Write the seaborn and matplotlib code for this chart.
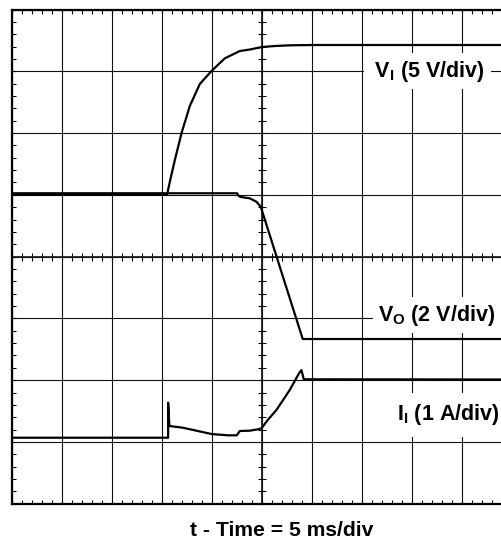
import matplotlib
matplotlib.use("Agg")
import matplotlib.pyplot as plt
import seaborn as sns
from matplotlib.ticker import MultipleLocator

# Oscilloscope traces, in screen divisions (time: 5 ms/div)
vi_t = [0.0, 3.10, 3.113, 3.16, 3.26, 3.40, 3.56, 3.76, 4.0, 4.26, 4.56, 4.76, 5.0, 5.26, 5.56, 5.98, 10.3]
vi_y = [5.0, 5.0, 5.034, 5.212, 5.563, 6.017, 6.438, 6.794, 7.009, 7.209, 7.328, 7.352, 7.392, 7.409, 7.420, 7.425, 7.425]

vo_t = [0.0, 4.506, 4.54, 4.58, 4.76, 4.894, 4.98, 5.82, 10.3]
vo_y = [5.025, 5.025, 4.98, 4.965, 4.943, 4.888, 4.807, 2.666, 2.666]

ii_t = [0.0, 3.126, 3.126, 3.15, 3.42, 3.72, 3.994, 4.32, 4.50, 4.56, 4.76, 4.92, 4.994,
        5.12, 5.294, 5.56, 5.694, 5.75, 5.794, 5.82, 5.84, 10.3]
ii_y = [1.068, 1.068, 1.635, 1.258, 1.230, 1.177, 1.128, 1.107, 1.107, 1.177, 1.182, 1.204, 1.220,
        1.355, 1.517, 1.840, 2.035, 2.116, 2.164, 2.083, 2.014, 2.010]

trace_labels = ["V$_{\\rm I}$ (5 V/div)", "V$_{\\rm O}$ (2 V/div)", "I$_{\\rm I}$ (1 A/div)"]
x_label = "t - Time = 5 ms/div"

sns.set_theme(style="white")
plt.rcParams["font.family"] = ["Liberation Sans", "DejaVu Sans"]
plt.rcParams["text.color"] = "black"
plt.rcParams["mathtext.fontset"] = "custom"
plt.rcParams["mathtext.rm"] = "Liberation Sans:bold"
plt.rcParams["mathtext.it"] = "Liberation Sans:bold"
plt.rcParams["mathtext.bf"] = "Liberation Sans:bold"

W, H = 501, 544
fig = plt.figure(figsize=(W / 100, H / 100), dpi=100)
pos = [12 / W, (H - 503.7) / H, 499.5 / W, 494.2 / H]

# center cross axes with tick marks
axc = fig.add_axes(pos)
axc.set_xlim(0, 10)
axc.set_ylim(0, 8)
axc.set_facecolor("white")
for s in ["top", "right"]:
    axc.spines[s].set_visible(False)
axc.spines["left"].set_position(("data", 5))
axc.spines["bottom"].set_position(("data", 4))
for s in ["left", "bottom"]:
    axc.spines[s].set_color("black")
    axc.spines[s].set_linewidth(1.1)
axc.xaxis.set_major_locator(MultipleLocator(1))
axc.yaxis.set_major_locator(MultipleLocator(1))
axc.xaxis.set_minor_locator(MultipleLocator(0.2))
axc.yaxis.set_minor_locator(MultipleLocator(0.2))
axc.tick_params(which="both", direction="inout", length=5.5, width=0.8, color="black",
                labelbottom=False, labelleft=False, bottom=True, left=True)

# main axes
ax = fig.add_axes(pos, facecolor="none")
ax.set_xlim(0, 10)
ax.set_ylim(0, 8)
ax.xaxis.set_major_locator(MultipleLocator(1))
ax.yaxis.set_major_locator(MultipleLocator(1))
ax.xaxis.set_minor_locator(MultipleLocator(0.2))
ax.yaxis.set_minor_locator(MultipleLocator(0.2))
ax.set_axisbelow(True)
ax.grid(True, which="major", color="#111111", lw=0.8)
ax.tick_params(which="both", direction="in", length=2.6, width=0.8, color="black",
               top=True, bottom=True, left=True, right=False,
               labelbottom=False, labelleft=False)
for s in ax.spines.values():
    s.set_color("black")
    s.set_linewidth(1.6)

for t, y in [(vi_t, vi_y), (vo_t, vo_y), (ii_t, ii_y)]:
    sns.lineplot(x=t, y=y, ax=ax, color="black", lw=1.6, estimator=None, sort=False, legend=False)

FS = 15.5
box = dict(facecolor="white", edgecolor="none", boxstyle="square,pad=0.25")
ax.text(8.32, 7.0, " " + trace_labels[0] + " ", ha="center", va="center", fontsize=FS,
        fontweight="bold", bbox=box, zorder=5)
ax.text(8.5, 3.05, trace_labels[1], ha="center", va="center", fontsize=FS,
        fontweight="bold", bbox=box, zorder=5)
ax.text(8.73, 1.436, trace_labels[2], ha="center", va="center", fontsize=FS,
        fontweight="bold", bbox=dict(facecolor="white", edgecolor="none", boxstyle="square,pad=0.45"), zorder=5)

fig.text(281.7 / W, 1 - 531 / H, x_label, ha="center", va="center", fontsize=15.2, fontweight="bold")

fig.savefig("out.png", dpi=100)
